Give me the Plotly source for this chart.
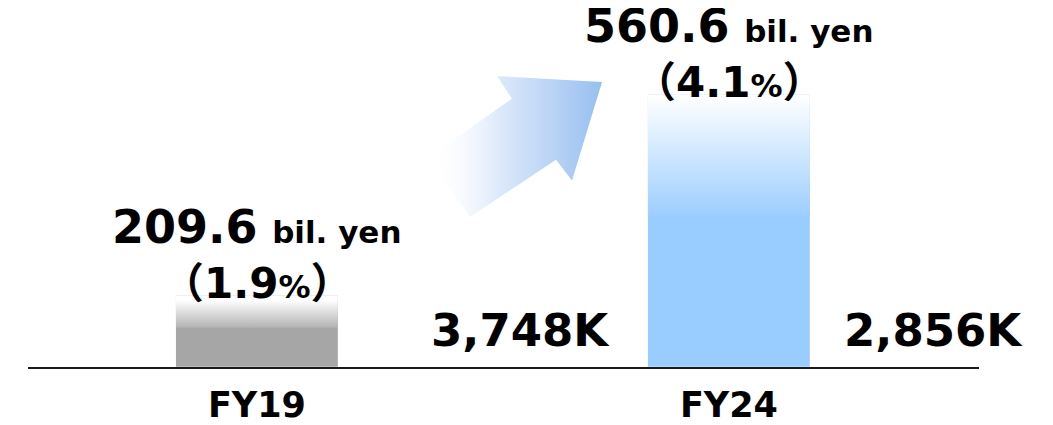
import plotly.graph_objects as go

# ---- data ----
categories = ["FY19", "FY24"]
sales_bil_yen = [209.6, 560.6]
share_pct = ["1.9", "4.1"]
units_labels = ["3,748K", "2,856K"]
units_x = [0.559, 1.434]  # category-axis position of the side labels

# ---- style ----
PAGE_OFF = 8                      # browser body margin
FIG_W, FIG_H = 1053 - PAGE_OFF, 425 - PAGE_OFF
BAR_W = 0.343
GRAD_FRAC = 0.45
Y_RANGE = [85.7, 712.0]
bar_colors = ["#a6a6a6", "#99ccff"]
FONT = "DejaVu Sans, Verdana, Noto Sans CJK JP, sans-serif"

# decorative arrow (page pixel coordinates on an overlay axis)
arrow_x = [602, 497, 512, 428, 470, 556, 572, 602]
arrow_y = [83, 77, 100, 160, 220, 162, 183, 83]

x_idx = list(range(len(categories)))

fig = go.Figure()
fig.add_bar(x=x_idx, y=sales_bil_yen, width=BAR_W,
            marker=dict(color=bar_colors, line=dict(width=0)),
            hoverinfo="skip", showlegend=False)

for i, v in enumerate(sales_bil_yen):
    vis = v - Y_RANGE[0]
    g = v - GRAD_FRAC * vis
    x0, x1 = i - BAR_W / 2, i + BAR_W / 2
    fig.add_scatter(x=[x0, x1, x1, x0, x0], y=[g, g, v, v, g], mode="lines",
                    line=dict(width=0), fill="toself",
                    fillgradient=dict(type="vertical",
                                      colorscale=[[0, bar_colors[i]], [1, "#ffffff"]],
                                      start=g, stop=v),
                    hoverinfo="skip", showlegend=False)

fig.add_scatter(x=arrow_x, y=arrow_y, xaxis="x2", yaxis="y2", mode="lines",
                line=dict(width=0), fill="toself",
                fillgradient=dict(type="horizontal",
                                  colorscale=[[0, "rgba(255,255,255,0)"],
                                              [0.4, "rgba(222,234,250,1)"],
                                              [1, "#97bff0"]],
                                  start=min(arrow_x), stop=max(arrow_x)),
                hoverinfo="skip", showlegend=False)

for i, (v, p) in enumerate(zip(sales_bil_yen, share_pct)):
    fig.add_annotation(x=i, y=v, xref="x", yref="y", showarrow=False,
                       yanchor="middle", yshift=69,
                       text=f"<b>{v}</b> <b><span style='font-size:31px'>bil. yen</span></b>",
                       font=dict(family=FONT, size=46, color="black"))
    fig.add_annotation(x=i, y=v, xref="x", yref="y", showarrow=False,
                       yanchor="middle", yshift=12,
                       text=f"<b>（{p}<span style='font-size:32px'>%</span>）</b>",
                       font=dict(family=FONT, size=42, color="black"))

for lbl, ux in zip(units_labels, units_x):
    fig.add_annotation(x=ux, y=0, xref="x", yref="y domain", showarrow=False,
                       yanchor="middle", yshift=36,
                       text=f"<b>{lbl}</b>",
                       font=dict(family=FONT, size=45, color="black"))

axis_left, axis_right, axis_y = 28 - PAGE_OFF, 979 - PAGE_OFF, 372 - PAGE_OFF

fig.update_layout(
    width=FIG_W, height=FIG_H,
    margin=dict(l=0, r=0, t=0, b=0),
    paper_bgcolor="white", plot_bgcolor="rgba(0,0,0,0)",
    showlegend=False,
    xaxis=dict(domain=[axis_left / FIG_W, axis_right / FIG_W], range=[-0.485, 1.530],
               tickmode="array", tickvals=x_idx, ticktext=categories,
               showline=True, linecolor="#1a1a1a", linewidth=2,
               showgrid=False, zeroline=False, ticks="",
               ticklabelstandoff=6,
               tickfont=dict(family=FONT, size=35, color="black", weight="bold"),
               fixedrange=True),
    yaxis=dict(domain=[(FIG_H - axis_y) / FIG_H, 1], range=Y_RANGE, visible=False,
               showgrid=False, zeroline=False, fixedrange=True),
    xaxis2=dict(domain=[0, 1], range=[PAGE_OFF, 1053], visible=False, anchor="y2",
                fixedrange=True),
    yaxis2=dict(domain=[0, 1], range=[425, PAGE_OFF], visible=False, anchor="x2",
                fixedrange=True),
)

fig.write_html("out.html")
